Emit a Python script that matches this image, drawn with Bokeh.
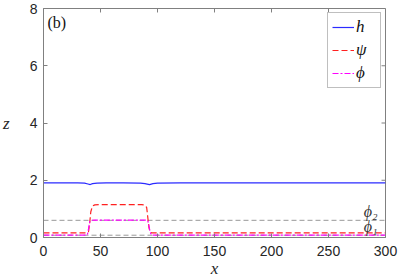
from bokeh.plotting import figure
from bokeh.models import Range1d, FixedTicker, Legend, LegendItem
from bokeh.core.properties import value
from bokeh.embed import file_html
from bokeh.resources import INLINE

# data
h_x = [0, 30, 36, 39, 41, 43, 47, 55, 70, 85, 89, 93, 96, 100, 120, 200, 300]
h_v = [1.91, 1.91, 1.90, 1.87, 1.85, 1.88, 1.90, 1.91, 1.91, 1.90, 1.88, 1.85, 1.88, 1.90, 1.91, 1.91, 1.91]

psi_x = [0, 38, 39.5, 40.5, 41.5, 43, 45, 50, 70, 86, 89, 90.5, 91.5, 92.5, 93.5, 95, 100, 200, 300]
psi_v = [0.16, 0.16, 0.2, 0.5, 0.9, 1.1, 1.14, 1.15, 1.15, 1.15, 1.13, 1.05, 0.7, 0.35, 0.18, 0.16, 0.16, 0.16, 0.16]

phi_x = [0, 37, 38.5, 39.5, 40.5, 41.5, 45, 70, 90, 91.5, 92.5, 93.5, 94.5, 96, 98, 300]
phi_v = [0.08, 0.08, 0.1, 0.3, 0.55, 0.6, 0.61, 0.61, 0.61, 0.58, 0.4, 0.2, 0.1, 0.08, 0.08, 0.08]

phi1 = 0.08
phi2 = 0.6
x_ticks = [0, 50, 100, 150, 200, 250, 300]
y_ticks = [0, 2, 4, 6, 8]

AX = "#808080"
TXT = "#262626"
SERIF = "Liberation Serif"

p = figure(width=399, height=280, output_backend="svg", toolbar_location=None,
           x_range=Range1d(0, 300), y_range=Range1d(0, 8),
           min_border_left=41, min_border_right=14, min_border_top=8, min_border_bottom=42)
p.xgrid.visible = False
p.ygrid.visible = False
p.outline_line_color = AX

for ax in (p.xaxis[0], p.yaxis[0]):
    ax.axis_line_color = AX
    ax.major_tick_line_color = AX
    ax.major_tick_in = 4
    ax.major_tick_out = 0
    ax.minor_tick_line_color = None
    ax.major_label_text_font = "Liberation Sans"
    ax.major_label_text_font_size = "14px"
    ax.major_label_text_color = TXT
    ax.axis_label_text_font = SERIF
    ax.axis_label_text_font_style = "italic"
    ax.axis_label_text_font_size = "17px"
    ax.axis_label_text_color = TXT
p.xaxis[0].ticker = FixedTicker(ticks=x_ticks)
p.yaxis[0].ticker = FixedTicker(ticks=y_ticks)
p.xaxis[0].axis_label = "x"
p.yaxis[0].axis_label = "z"
p.xaxis[0].major_label_standoff = 8
p.xaxis[0].axis_label_standoff = 0
p.yaxis[0].major_label_standoff = 6
p.yaxis[0].axis_label_standoff = 17
p.yaxis[0].axis_label_orientation = "horizontal"

# inward ticks on top and right edges of the box
tick_len_y = 8 * 4 / 230.0
tick_len_x = 300 * 4 / 344.0
p.segment(x0=x_ticks, y0=[8] * len(x_ticks), x1=x_ticks, y1=[8 - tick_len_y] * len(x_ticks),
          line_color=AX, line_width=1)
p.segment(x0=[300] * len(y_ticks), y0=y_ticks, x1=[300 - tick_len_x] * len(y_ticks), y1=y_ticks,
          line_color=AX, line_width=1)

# reference lines
p.line([0, 300], [phi2, phi2], line_color="#999999", line_dash="5 3", line_width=1)
p.line([0, 300], [phi1, phi1], line_color="#999999", line_dash="5 3", line_width=1)

r_h = p.line(h_x, h_v, line_color="#2b2bff", line_width=1.2)
r_psi = p.line(psi_x, psi_v, line_color="#ff2020", line_width=1.2, line_dash="6 3")
r_phi = p.line(phi_x, phi_v, line_color="#ff00ff", line_width=1.2, line_dash="6 2 2 2")

p.text(x=[3.5], y=[7.5], text=["(b)"], text_font=value(SERIF), text_font_size="16px",
       text_color="#111111", text_baseline="middle", text_align="left")
p.text(x=[281, 281], y=[0.92, 0.38], text=["ϕ₂", "ϕ₁"], text_font=value(SERIF),
       text_font_style="italic", text_font_size="16px", text_color="#333333",
       text_baseline="middle", text_align="left")

legend = Legend(items=[LegendItem(label="h", renderers=[r_h]),
                       LegendItem(label="ψ", renderers=[r_psi]),
                       LegendItem(label="ϕ", renderers=[r_phi])],
                location="top_right")
legend.label_text_font = SERIF
legend.label_text_font_style = "italic"
legend.label_text_font_size = "17px"
legend.label_text_color = "#111111"
legend.border_line_color = AX
legend.glyph_width = 22
legend.glyph_height = 18
legend.label_height = 18
legend.spacing = 3
legend.padding = 4
legend.margin = 4
legend.label_standoff = 2
p.add_layout(legend)

open("out.html", "w").write(file_html(p, INLINE))
